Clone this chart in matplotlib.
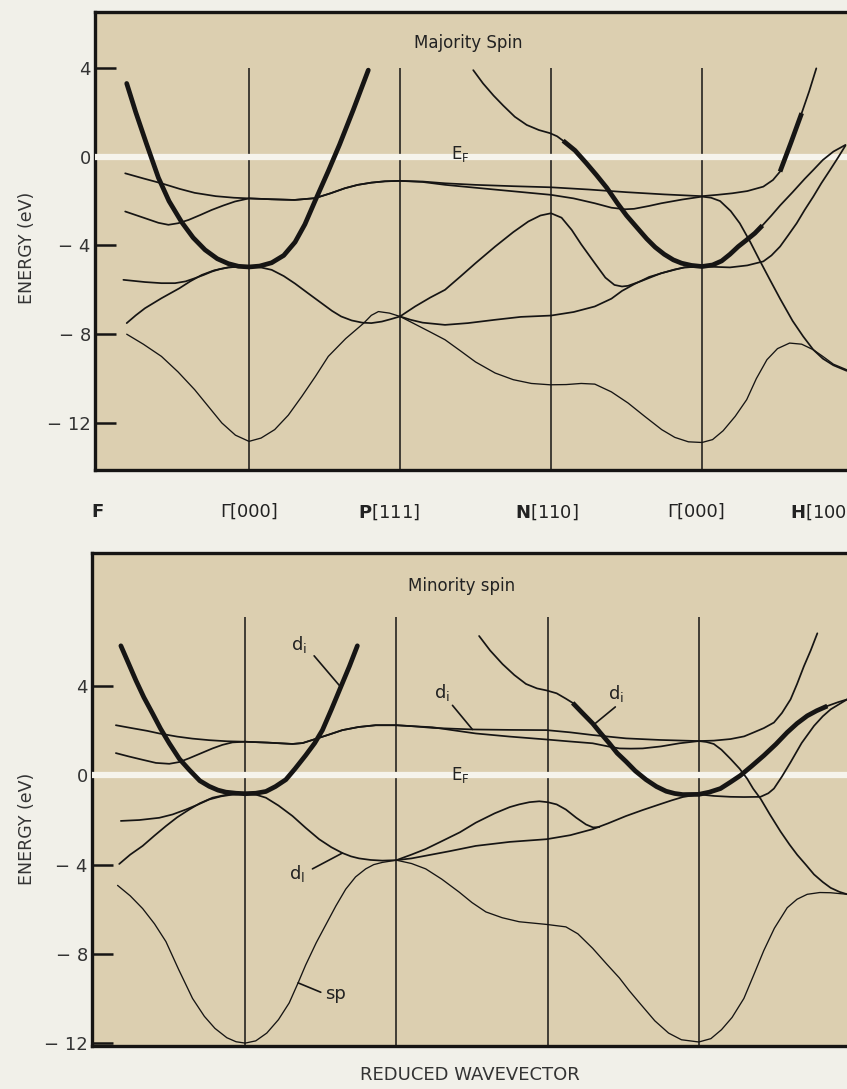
import matplotlib
matplotlib.use("Agg")
import matplotlib.pyplot as plt
import numpy as np

# path F - Gamma - P - N - Gamma - H, one unit per segment; energies in eV
sym_k = [1, 2, 3, 4]
row_k = [-0.007, 1.0, 1.93, 2.97, 3.96, 4.58]
row_labels = [r'$\mathbf{F}$', 'Γ[000]', r'$\mathbf{P}$[111]',
              r'$\mathbf{N}$[110]', 'Γ[000]', r'$\mathbf{H}$[100]']
e_ticks = [-12, -8, -4, 0, 4]
e_tick_labels = ['\u2212 12', '\u2212 8', '\u2212 4', '0', '4']

# ---------------- majority spin ----------------
maj_d1_k = [0.19, 0.25, 0.32, 0.40, 0.47, 0.554, 0.63, 0.709, 0.79, 0.863, 0.93, 1.0,
            1.07, 1.15, 1.23, 1.305, 1.37, 1.437, 1.525, 1.6, 1.69, 1.79]
maj_d1_e = [3.3, 2.0, 0.6, -0.95, -2.0, -2.95, -3.65, -4.2, -4.6, -4.82, -4.94, -4.97,
            -4.93, -4.78, -4.45, -3.85, -3.05, -2.0, -0.65, 0.55, 2.1, 3.9]

maj_d2_k = [0.18, 0.30, 0.42, 0.54, 0.64, 0.78, 0.90, 1.0, 1.15, 1.30, 1.437, 1.54, 1.636,
            1.72, 1.81, 1.90, 2.0, 2.15, 2.30, 2.5, 2.75, 3.0, 3.25, 3.5, 3.75, 4.0, 4.1,
            4.2, 4.3, 4.406, 4.47, 4.517, 4.59, 4.66, 4.71, 4.757]
maj_d2_e = [-0.75, -0.98, -1.2, -1.45, -1.63, -1.78, -1.85, -1.88, -1.92, -1.95, -1.87,
            -1.65, -1.42, -1.27, -1.17, -1.11, -1.09, -1.12, -1.2, -1.27, -1.33, -1.38,
            -1.48, -1.6, -1.7, -1.78, -1.72, -1.65, -1.55, -1.35, -1.05, -0.67, 0.65,
            1.96, 2.95, 3.98]
maj_d2_thick = (4.517, 4.66)

maj_d3_k = [0.18, 0.31, 0.40, 0.466, 0.53, 0.6, 0.68, 0.753, 0.83, 0.907, 1.0, 1.15, 1.30,
            1.437, 1.54, 1.636, 1.72, 1.81, 1.90, 2.0, 2.15, 2.3, 2.5, 2.75, 3.0, 3.15,
            3.29, 3.4, 3.49, 3.55, 3.65, 3.73, 3.87, 4.0, 4.06, 4.12, 4.19, 4.25, 4.32,
            4.384, 4.45, 4.517, 4.6, 4.67, 4.737, 4.8, 4.87, 4.958]
maj_d3_e = [-2.47, -2.77, -2.98, -3.07, -3.0, -2.85, -2.62, -2.4, -2.2, -2.02, -1.88,
            -1.92, -1.95, -1.87, -1.65, -1.42, -1.27, -1.17, -1.11, -1.09, -1.14, -1.27,
            -1.4, -1.56, -1.72, -1.88, -2.1, -2.3, -2.37, -2.35, -2.22, -2.1, -1.93, -1.8,
            -1.85, -2.0, -2.45, -3.0, -3.85, -4.7, -5.55, -6.4, -7.4, -8.1, -8.7, -9.1,
            -9.4, -9.65]

maj_d4_k = [0.168, 0.311, 0.42, 0.51, 0.58, 0.64, 0.70, 0.753, 0.81, 0.863, 0.93, 1.0,
            1.07, 1.15, 1.23, 1.305, 1.39, 1.48, 1.55, 1.61, 1.68, 1.75, 1.81, 1.88, 1.94,
            2.0, 2.1, 2.2, 2.298, 2.4, 2.5, 2.63, 2.75, 2.85, 2.93, 3.0, 3.07, 3.137, 3.2,
            3.29, 3.36, 3.42, 3.47, 3.51, 3.6, 3.73, 3.88, 4.0]
maj_d4_e = [-5.55, -5.65, -5.7, -5.7, -5.62, -5.48, -5.33, -5.18, -5.06, -4.99, -4.96,
            -4.95, -4.98, -5.1, -5.38, -5.72, -6.15, -6.6, -6.95, -7.2, -7.38, -7.48,
            -7.5, -7.43, -7.32, -7.2, -6.75, -6.35, -6.0, -5.4, -4.8, -4.05, -3.4, -2.92,
            -2.65, -2.55, -2.75, -3.3, -3.95, -4.8, -5.45, -5.78, -5.85, -5.82, -5.6,
            -5.25, -4.99, -4.95]

maj_d5_k = [0.19, 0.25, 0.311, 0.42, 0.539, 0.61, 0.687, 0.77, 0.863, 0.93, 1.0]
maj_d5_e = [-7.5, -7.15, -6.83, -6.38, -5.93, -5.62, -5.33, -5.12, -4.99, -4.96, -4.95]

maj_d6_k = [2.0, 2.07, 2.15, 2.298, 2.45, 2.63, 2.8, 3.0, 3.15, 3.29, 3.4, 3.47, 3.55,
            3.65, 3.733, 3.82, 3.887, 4.0, 4.1, 4.185, 4.3, 4.406, 4.46, 4.517, 4.57,
            4.627, 4.68, 4.737, 4.79, 4.848, 4.9, 4.95]
maj_d6_e = [-7.2, -7.35, -7.48, -7.58, -7.5, -7.35, -7.22, -7.16, -7.0, -6.75, -6.4,
            -6.05, -5.75, -5.42, -5.25, -5.08, -4.99, -4.95, -4.97, -4.99, -4.9, -4.72,
            -4.45, -4.05, -3.55, -3.0, -2.4, -1.8, -1.2, -0.6, -0.05, 0.5]

maj_d7_k = [2.485, 2.55, 2.62, 2.684, 2.76, 2.839, 2.92, 2.993, 3.04, 3.08, 3.159, 3.235,
            3.30, 3.369, 3.44, 3.5, 3.57, 3.634, 3.69, 3.75, 3.81, 3.865, 3.93, 4.0, 4.07,
            4.13, 4.185, 4.24, 4.296, 4.35, 4.4, 4.46, 4.517, 4.6, 4.68, 4.737, 4.8, 4.87,
            4.95]
maj_d7_e = [3.9, 3.3, 2.75, 2.3, 1.8, 1.43, 1.2, 1.06, 0.92, 0.72, 0.28, -0.3, -0.82,
            -1.4, -2.1, -2.65, -3.2, -3.7, -4.08, -4.4, -4.65, -4.8, -4.9, -4.95, -4.88,
            -4.7, -4.4, -4.05, -3.75, -3.45, -3.1, -2.65, -2.2, -1.6, -1.0, -0.6, -0.15,
            0.23, 0.53]
maj_d7_thick = (3.08, 4.4)

maj_sp_k = [0.19, 0.3, 0.42, 0.53, 0.64, 0.73, 0.82, 0.91, 1.0, 1.08, 1.17, 1.26, 1.35,
            1.44, 1.525, 1.64, 1.76, 1.81, 1.857, 1.93, 2.0, 2.1, 2.2, 2.298, 2.4, 2.5,
            2.63, 2.75, 2.87, 2.993, 3.1, 3.2, 3.29, 3.4, 3.51, 3.62, 3.733, 3.82, 3.91,
            4.0, 4.07, 4.14, 4.22, 4.296, 4.36, 4.43, 4.5, 4.58, 4.66, 4.737, 4.8, 4.87,
            4.958]
maj_sp_e = [-8.0, -8.45, -9.0, -9.7, -10.5, -11.25, -12.0, -12.55, -12.83, -12.68, -12.3,
            -11.65, -10.8, -9.9, -9.0, -8.2, -7.5, -7.15, -6.98, -7.05, -7.2, -7.55, -7.9,
            -8.25, -8.75, -9.25, -9.75, -10.05, -10.22, -10.28, -10.27, -10.22, -10.25,
            -10.6, -11.1, -11.7, -12.3, -12.65, -12.85, -12.88, -12.75, -12.35, -11.7,
            -10.95, -10.0, -9.15, -8.65, -8.4, -8.45, -8.7, -9.0, -9.35, -9.6]

# ---------------- minority spin ----------------
min_d1_k = [0.178, 0.23, 0.278, 0.33, 0.388, 0.44, 0.498, 0.565, 0.63, 0.70, 0.762, 0.82,
            0.872, 0.94, 1.0, 1.07, 1.137, 1.2, 1.269, 1.33, 1.4, 1.46, 1.511, 1.57,
            1.632, 1.69, 1.742]
min_d1_e = [5.81, 5.0, 4.25, 3.5, 2.77, 2.1, 1.44, 0.74, 0.25, -0.24, -0.49, -0.66,
            -0.75, -0.8, -0.82, -0.8, -0.72, -0.5, -0.19, 0.3, 0.9, 1.45, 2.03, 2.95,
            3.96, 4.9, 5.81]

min_d2_k = [0.145, 0.25, 0.35, 0.432, 0.55, 0.65, 0.762, 0.88, 1.0, 1.15, 1.313, 1.38,
            1.445, 1.55, 1.643, 1.75, 1.863, 2.0, 2.12, 2.238, 2.503, 2.75, 2.993, 3.15,
            3.298, 3.519, 3.74, 4.0, 4.1, 4.21, 4.3, 4.364, 4.43, 4.497, 4.55, 4.607,
            4.65, 4.695, 4.74, 4.784]
min_d2_e = [2.25, 2.12, 2.0, 1.88, 1.74, 1.65, 1.58, 1.53, 1.51, 1.47, 1.41, 1.45, 1.59,
            1.82, 2.03, 2.17, 2.25, 2.25, 2.2, 2.13, 2.06, 2.04, 2.03, 1.93, 1.81, 1.66,
            1.59, 1.54, 1.56, 1.63, 1.75, 1.93, 2.12, 2.37, 2.8, 3.41, 4.1, 4.89, 5.6,
            6.37]

min_d3_k = [0.145, 0.23, 0.322, 0.41, 0.498, 0.565, 0.63, 0.70, 0.784, 0.85, 0.916, 1.0,
            1.15, 1.313, 1.38, 1.445, 1.55, 1.643, 1.75, 1.863, 2.0, 2.12, 2.238, 2.38,
            2.525, 2.75, 2.993, 3.15, 3.298, 3.4, 3.475, 3.55, 3.629, 3.75, 3.872, 4.0,
            4.05, 4.099, 4.15, 4.21, 4.27, 4.32, 4.36, 4.408, 4.47, 4.541, 4.6, 4.651,
            4.71, 4.762, 4.82, 4.872, 4.93, 4.982]
min_d3_e = [1.0, 0.85, 0.70, 0.56, 0.52, 0.6, 0.77, 0.97, 1.21, 1.37, 1.48, 1.51, 1.47,
            1.41, 1.45, 1.59, 1.82, 2.03, 2.17, 2.25, 2.25, 2.2, 2.16, 2.02, 1.88, 1.74,
            1.61, 1.52, 1.44, 1.3, 1.21, 1.2, 1.21, 1.3, 1.44, 1.54, 1.5, 1.41, 1.15,
            0.74, 0.3, -0.15, -0.6, -1.04, -1.75, -2.52, -3.1, -3.56, -4.02, -4.44,
            -4.78, -5.04, -5.22, -5.33]

min_d4_k = [0.178, 0.3, 0.432, 0.52, 0.608, 0.69, 0.762, 0.84, 0.916, 1.0]
min_d4_e = [-2.04, -2.0, -1.9, -1.75, -1.53, -1.3, -1.08, -0.94, -0.86, -0.82]

min_d5_k = [0.167, 0.24, 0.322, 0.4, 0.476, 0.55, 0.63, 0.70, 0.784, 0.88, 1.0, 1.07,
            1.137, 1.22, 1.313, 1.4, 1.489, 1.57, 1.643, 1.7, 1.753, 1.83, 1.907, 2.0,
            2.1, 2.194, 2.35, 2.525, 2.75, 2.993, 3.15, 3.298, 3.4, 3.519, 3.63, 3.74,
            3.82, 3.894, 4.0, 4.1, 4.21, 4.3, 4.408, 4.46, 4.497, 4.55, 4.607, 4.68,
            4.762, 4.82, 4.872, 4.93, 4.982]
min_d5_e = [-3.97, -3.55, -3.16, -2.7, -2.27, -1.88, -1.53, -1.25, -1.0, -0.86, -0.82,
            -0.86, -1.0, -1.35, -1.82, -2.35, -2.86, -3.22, -3.48, -3.63, -3.72, -3.79,
            -3.82, -3.8, -3.72, -3.6, -3.4, -3.16, -2.98, -2.86, -2.68, -2.41, -2.15,
            -1.82, -1.55, -1.3, -1.12, -0.97, -0.85, -0.92, -0.96, -0.97, -0.96, -0.8,
            -0.59, -0.05, 0.59, 1.45, 2.22, 2.65, 2.96, 3.2, 3.41]

min_d6_k = [2.0, 2.1, 2.194, 2.3, 2.42, 2.525, 2.65, 2.75, 2.812, 2.88, 2.945, 3.0, 3.06,
            3.121, 3.19, 3.254, 3.3, 3.342]
min_d6_e = [-3.8, -3.55, -3.3, -2.95, -2.55, -2.12, -1.7, -1.42, -1.3, -1.2, -1.16, -1.2,
            -1.3, -1.53, -1.9, -2.2, -2.33, -2.32]

min_d7_k = [2.547, 2.62, 2.702, 2.78, 2.857, 2.93, 2.993, 3.06, 3.121, 3.166, 3.23, 3.298,
            3.35, 3.408, 3.46, 3.519, 3.58, 3.651, 3.72, 3.784, 3.84, 3.894, 4.0, 4.07,
            4.143, 4.21, 4.276, 4.35, 4.43, 4.51, 4.585, 4.65, 4.717, 4.78, 4.85, 4.92,
            4.982]
min_d7_e = [6.25, 5.6, 4.99, 4.5, 4.1, 3.9, 3.81, 3.68, 3.44, 3.25, 2.8, 2.33, 1.9, 1.44,
            1.0, 0.62, 0.2, -0.19, -0.5, -0.71, -0.81, -0.86, -0.85, -0.75, -0.59, -0.3,
            0.0, 0.42, 0.89, 1.4, 1.93, 2.33, 2.67, 2.9, 3.11, 3.28, 3.41]
min_d7_thick = (3.166, 4.85)

min_sp_k = [0.156, 0.24, 0.322, 0.4, 0.476, 0.56, 0.652, 0.73, 0.8, 0.879, 0.94, 1.0,
            1.07, 1.143, 1.22, 1.291, 1.35, 1.4, 1.47, 1.533, 1.6, 1.665, 1.73, 1.797,
            1.85, 1.907, 2.0, 2.1, 2.194, 2.3, 2.415, 2.5, 2.592, 2.7, 2.812, 2.993,
            3.121, 3.2, 3.298, 3.39, 3.475, 3.54, 3.607, 3.709, 3.8, 3.885, 4.0, 4.08,
            4.15, 4.22, 4.298, 4.36, 4.43, 4.5, 4.585, 4.65, 4.717, 4.8, 4.872, 4.982]
min_sp_e = [-4.93, -5.4, -5.97, -6.65, -7.45, -8.7, -10.0, -10.8, -11.34, -11.76, -11.94,
            -12.0, -11.9, -11.55, -10.95, -10.2, -9.3, -8.5, -7.5, -6.7, -5.85, -5.1,
            -4.55, -4.19, -4.0, -3.9, -3.8, -3.95, -4.19, -4.65, -5.23, -5.7, -6.12,
            -6.38, -6.56, -6.68, -6.79, -7.1, -7.75, -8.45, -9.08, -9.65, -10.19, -11.0,
            -11.55, -11.85, -11.95, -11.8, -11.4, -10.85, -10.0, -9.0, -7.85, -6.85,
            -5.93, -5.55, -5.33, -5.25, -5.26, -5.33]

INK = '#161514'
PANEL = '#dccfb0'
PAGE = '#f1f0e9'
FERMI = '#f6f4ec'
THIN, MED, THICK = 0.95, 1.25, 3.4


def draw_band(ax, k, e, lw, thick=None):
    k = np.asarray(k)
    e = np.asarray(e)
    ax.plot(k, e, color=INK, lw=lw, solid_joinstyle='round', solid_capstyle='round', zorder=3)
    if thick is not None:
        sel = (k >= thick[0]) & (k <= thick[1])
        ax.plot(k[sel], e[sel], color=INK, lw=THICK, solid_joinstyle='round',
                solid_capstyle='butt', zorder=3)


def setup_panel(ax, xlim, ylim, vtop):
    ax.set_facecolor(PANEL)
    ax.set_xlim(*xlim)
    ax.set_ylim(*ylim)
    ax.vlines(sym_k, ylim[0], vtop, color=INK, lw=1.1, zorder=2)
    ax.axhline(0, color=FERMI, lw=4.5, zorder=2.7)
    ax.set_xticks([])
    ax.set_yticks(e_ticks)
    ax.set_yticklabels(e_tick_labels)
    ax.tick_params(axis='y', direction='in', length=15, width=1.8, labelsize=13,
                   pad=3, colors=INK, labelcolor='#333333')
    for s in ax.spines.values():
        s.set_linewidth(2.4)
        s.set_color(INK)


fig = plt.figure(figsize=(8.47, 10.89), dpi=100, facecolor=PAGE)

# ---- majority ----
ax1 = fig.add_axes([95 / 847, 619 / 1089, 758 / 847, 458 / 1089])
setup_panel(ax1, (-0.02, 5.0), (-14.12, 6.52), 4.0)
draw_band(ax1, maj_d1_k, maj_d1_e, THICK)
draw_band(ax1, maj_d2_k, maj_d2_e, MED, maj_d2_thick)
draw_band(ax1, maj_d3_k, maj_d3_e, MED)
draw_band(ax1, maj_d4_k, maj_d4_e, MED)
draw_band(ax1, maj_d5_k, maj_d5_e, MED)
draw_band(ax1, maj_d6_k, maj_d6_e, MED)
draw_band(ax1, maj_d7_k, maj_d7_e, MED, maj_d7_thick)
draw_band(ax1, maj_sp_k, maj_sp_e, THIN)
ax1.text(2.45, 5.12, 'Majority Spin', ha='center', va='center', fontsize=12, color='#222222')
ax1.text(2.40, 0.1, r'E$_\mathrm{F}$', ha='center', va='center', fontsize=12,
         color='#222222', zorder=6)
for kx, lab in zip(row_k, row_labels):
    ax1.text(kx, -0.0917, lab, transform=ax1.get_xaxis_transform(),
             ha='left' if lab.startswith(r'$\mathbf{H}') else 'center', va='center',
             fontsize=13, color='#222222', clip_on=False)

# ---- minority ----
ax2 = fig.add_axes([92 / 847, 43 / 1089, 758 / 847, 493 / 1089])
setup_panel(ax2, (-0.013, 5.0), (-12.13, 9.97), 7.1)
draw_band(ax2, min_d1_k, min_d1_e, THICK)
draw_band(ax2, min_d2_k, min_d2_e, MED)
draw_band(ax2, min_d3_k, min_d3_e, MED)
draw_band(ax2, min_d4_k, min_d4_e, MED)
draw_band(ax2, min_d5_k, min_d5_e, MED)
draw_band(ax2, min_d6_k, min_d6_e, MED)
draw_band(ax2, min_d7_k, min_d7_e, MED, min_d7_thick)
draw_band(ax2, min_sp_k, min_sp_e, THIN)
ax2.text(2.43, 8.5, 'Minority spin', ha='center', va='center', fontsize=12, color='#222222')
ax2.text(2.42, 0.0, r'E$_\mathrm{F}$', ha='center', va='center', fontsize=12,
         color='#222222', zorder=6)

lead = dict(arrowstyle='-', color=INK, lw=1.2, shrinkA=0, shrinkB=0)
notes = [(r'd$_\mathrm{i}$', (1.357, 5.85), (1.456, 5.36), (1.632, 3.96)),
         (r'd$_\mathrm{l}$', (1.346, -4.41), (1.445, -4.19), (1.643, -3.48)),
         (r'd$_\mathrm{i}$', (2.305, 3.73), (2.371, 3.14), (2.503, 2.06)),
         (r'd$_\mathrm{i}$', (3.453, 3.66), (3.448, 3.07), (3.31, 2.3))]
for lab, txy, p0, p1 in notes:
    ax2.text(txy[0], txy[1], lab, ha='center', va='center', fontsize=13, color='#222222')
    ax2.annotate('', xy=p1, xytext=p0, arrowprops=lead)
ax2.annotate('', xy=(1.35, -9.3), xytext=(1.5, -9.72), arrowprops=lead)
ax2.text(1.53, -9.8, 'sp', ha='left', va='center', fontsize=13, color='#222222')

fig.text(27 / 847, 1 - 248 / 1089, 'ENERGY (eV)', rotation=90, ha='center', va='center',
         fontsize=12.5, color='#333333')
fig.text(27 / 847, 1 - 829 / 1089, 'ENERGY (eV)', rotation=90, ha='center', va='center',
         fontsize=12.5, color='#333333')
fig.text(470 / 847, 1 - 1075 / 1089, 'REDUCED WAVEVECTOR', ha='center', va='center',
         fontsize=13, color='#333333')

fig.savefig('out.png', dpi=100, facecolor=fig.get_facecolor())
